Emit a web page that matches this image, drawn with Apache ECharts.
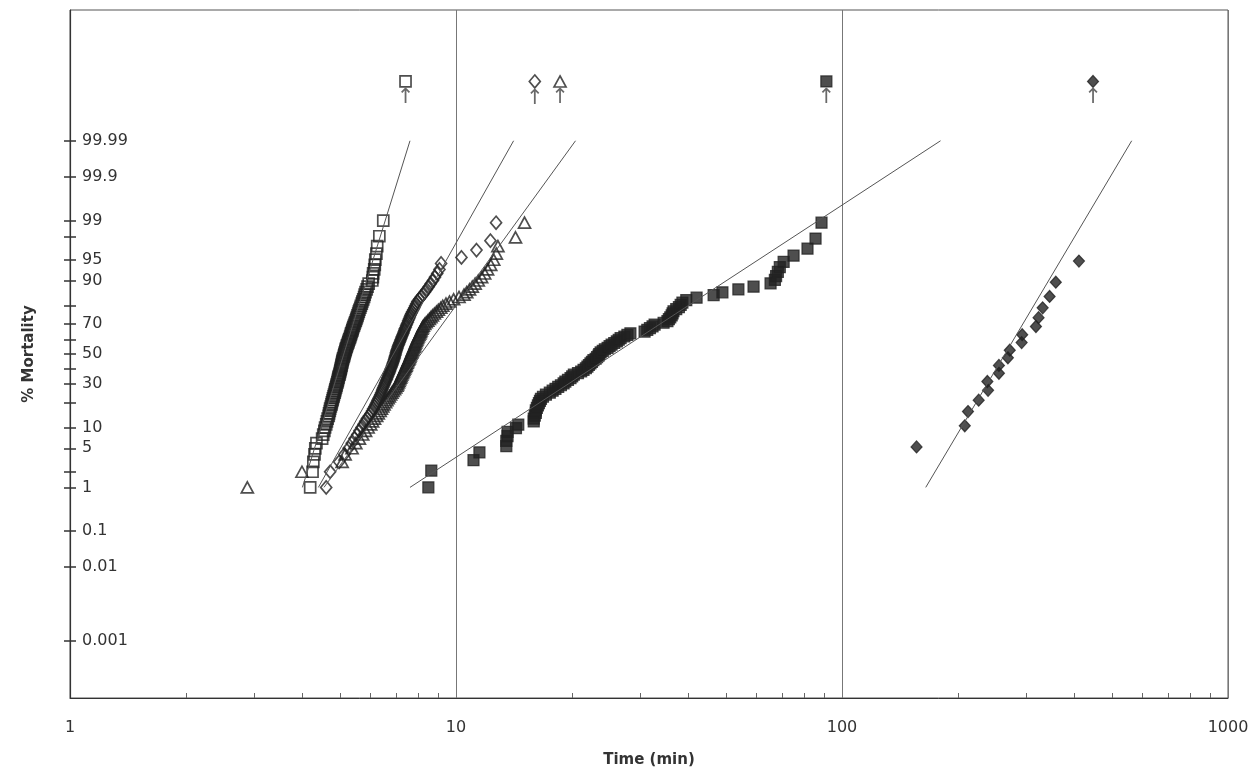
<!DOCTYPE html>
<html>
<head>
<meta charset="utf-8">
<title>% Mortality vs Time</title>
<script src="https://cdn.jsdelivr.net/npm/echarts@6/dist/echarts.min.js"></script>
<style>
html, body { margin: 0; padding: 0; background: #fff; }
#chart { width: 1260px; height: 773px; }
</style>
</head>
<body>
<div id="chart"></div>
<script>
// data: [time (min), % mortality]
var openSquares = [[4.19,1],[4.25,2],[4.27,3],[4.30,4],[4.32,5],[4.35,6],[4.50,7],[4.53,8],[4.56,9],[4.58,10],[4.61,11],[4.63,12],[4.65,13],[4.68,14],[4.69,15],[4.71,16],[4.72,17],[4.74,18],[4.76,19],[4.77,20],[4.79,21],[4.80,22],[4.82,23],[4.83,24],[4.85,25],[4.86,26],[4.87,27],[4.89,28],[4.90,29],[4.91,30],[4.93,31],[4.94,32],[4.95,33],[4.96,34],[4.97,35],[4.99,36],[5.00,37],[5.01,38],[5.02,39],[5.03,40],[5.04,41],[5.05,42],[5.06,43],[5.07,44],[5.08,45],[5.09,46],[5.10,47],[5.12,48],[5.13,49],[5.14,50],[5.15,51],[5.17,52],[5.18,53],[5.19,54],[5.21,55],[5.22,56],[5.24,57],[5.26,58],[5.27,59],[5.29,60],[5.31,61],[5.32,62],[5.34,63],[5.35,64],[5.37,65],[5.39,66],[5.40,67],[5.42,68],[5.44,69],[5.46,70],[5.48,71],[5.50,72],[5.52,73],[5.54,74],[5.56,75],[5.58,76],[5.60,77],[5.62,78],[5.65,79],[5.67,80],[5.70,81],[5.72,82],[5.75,83],[5.78,84],[5.80,85],[5.83,86],[5.87,87],[5.90,88],[5.94,89],[6.07,90],[6.09,91],[6.10,92],[6.14,93],[6.16,94],[6.18,95],[6.22,96],[6.25,97],[6.33,98],[6.48,99]];

var openDiamonds = [[4.61,1],[4.72,2],[4.98,3],[5.14,4],[5.27,5],[5.37,6],[5.46,7],[5.55,8],[5.62,9],[5.69,10],[5.76,11],[5.82,12],[5.88,13],[5.95,14],[6.01,15],[6.06,16],[6.10,17],[6.15,18],[6.19,19],[6.23,20],[6.26,21],[6.30,22],[6.34,23],[6.37,24],[6.40,25],[6.43,26],[6.45,27],[6.48,28],[6.51,29],[6.54,30],[6.56,31],[6.59,32],[6.62,33],[6.64,34],[6.67,35],[6.69,36],[6.72,37],[6.74,38],[6.76,39],[6.78,40],[6.81,41],[6.83,42],[6.85,43],[6.87,44],[6.89,45],[6.91,46],[6.93,47],[6.94,48],[6.96,49],[6.98,50],[6.99,51],[7.01,52],[7.03,53],[7.05,54],[7.07,55],[7.09,56],[7.12,57],[7.14,58],[7.17,59],[7.19,60],[7.22,61],[7.24,62],[7.27,63],[7.30,64],[7.32,65],[7.35,66],[7.37,67],[7.41,68],[7.43,69],[7.46,70],[7.50,71],[7.52,72],[7.56,73],[7.59,74],[7.62,75],[7.66,76],[7.70,77],[7.75,78],[7.80,79],[7.84,80],[7.89,81],[7.94,82],[8.03,83],[8.11,84],[8.21,85],[8.31,86],[8.40,87],[8.50,88],[8.60,89],[8.72,90],[8.82,91],[8.94,92],[9.06,93],[9.15,94.3],[10.33,95.4],[11.3,96.5],[12.28,97.6],[12.7,98.9]];

var openTriangles = [[2.88,1],[3.99,2],[5.07,3],[5.16,4],[5.38,5],[5.50,6],[5.62,7],[5.73,8],[5.83,9],[5.92,10],[6.01,11],[6.08,12],[6.15,13],[6.23,14],[6.29,15],[6.36,16],[6.41,17],[6.46,18],[6.51,19],[6.57,20],[6.62,21],[6.67,22],[6.72,23],[6.77,24],[6.82,25],[6.87,26],[6.93,27],[6.98,28],[7.03,29],[7.06,30],[7.09,31],[7.12,32],[7.15,33],[7.18,34],[7.21,35],[7.24,36],[7.27,37],[7.30,38],[7.33,39],[7.36,40],[7.39,41],[7.42,42],[7.44,43],[7.47,44],[7.50,45],[7.53,46],[7.56,47],[7.59,48],[7.61,49],[7.64,50],[7.67,51],[7.69,52],[7.72,53],[7.75,54],[7.78,55],[7.81,56],[7.83,57],[7.86,58],[7.89,59],[7.92,60],[7.95,61],[7.98,62],[8.02,63],[8.06,64],[8.09,65],[8.12,66],[8.16,67],[8.19,68],[8.23,69],[8.30,70],[8.37,71],[8.45,72],[8.53,73],[8.61,74],[8.69,75],[8.79,76],[8.90,77],[9.00,78],[9.13,79],[9.24,80],[9.42,81],[9.62,82],[9.86,83],[10.18,84],[10.49,85],[10.66,86],[10.84,87],[11.02,88],[11.21,89],[11.42,90],[11.65,91],[11.86,92],[12.07,93],[12.30,94],[12.52,95],[12.72,96],[12.84,97],[14.26,97.9],[15.05,98.9]];

var filledSquares = [[8.48,1.0],[8.63,2.1],[11.1,3.2],[11.5,4.3],[13.5,5.4],[13.5,6.5],[13.6,7.6],[13.6,8.7],[14.3,9.8],[14.5,10.9],[15.9,12.0],[15.9,13.0],[16.0,14.1],[16.1,15.2],[16.1,16.3],[16.2,17.4],[16.3,18.5],[16.4,19.6],[16.5,20.7],[16.6,21.7],[16.8,22.8],[17.1,23.9],[17.5,25.0],[17.8,26.1],[18.1,27.2],[18.4,28.3],[18.7,29.3],[19.0,30.4],[19.2,31.5],[19.5,32.6],[19.8,33.7],[20.0,34.8],[20.2,35.9],[20.7,37.0],[21.1,38.0],[21.4,39.1],[21.7,40.2],[21.9,41.3],[22.1,42.4],[22.3,43.5],[22.5,44.6],[22.7,45.7],[23.0,46.7],[23.2,47.8],[23.4,48.9],[23.5,50.0],[23.7,51.1],[24.0,52.2],[24.3,53.3],[24.7,54.3],[25.0,55.4],[25.3,56.5],[25.7,57.6],[26.1,58.7],[26.4,59.8],[26.7,60.9],[27.3,62.0],[27.8,63.0],[28.3,64.1],[30.8,65.2],[31.3,66.3],[31.8,67.4],[32.3,68.5],[32.7,69.6],[34.5,70.7],[35.3,71.7],[35.6,72.8],[35.9,73.9],[36.2,75.0],[36.4,76.1],[36.6,77.2],[37.2,78.3],[37.8,79.3],[38.2,80.4],[38.6,81.5],[39.5,82.6],[42.0,83.7],[46.5,84.8],[49.0,85.9],[53.9,87.0],[59.0,88.0],[65.3,89.1],[67.0,90.2],[67.5,91.3],[68.2,92.4],[69.0,93.5],[70.6,94.6],[74.9,95.7],[81.4,96.7],[85.4,97.8],[88.5,98.9]];

var filledDiamonds = [[156,5.26],[208,10.53],[212,15.79],[226,21.05],[239,26.32],[238,31.58],[255,36.84],[255,42.11],[269,47.37],[272,52.63],[292,57.89],[293,63.16],[318,68.42],[323,73.68],[331,78.95],[345,84.21],[358,89.47],[411,94.74]];

// survivors (plotted above 100 %, with an arrow), same order as the series
var survivorTimes = [7.4, 16.0, 18.6, 91.1, 447];
var survivorPct = 99.9999;

// fitted probit lines: [time, %] end points
var fitOpenSquares = [[4.0, 1], [7.6, 99.99]];
var fitOpenDiamonds = [[4.4, 1], [14.1, 99.99]];
var fitOpenTriangles = [[4.55, 1], [20.4, 99.99]];
var fitFilledSquares = [[7.6, 1], [180, 99.99]];
var fitFilledDiamonds = [[164.8, 1], [563, 99.99]];

// y axis ticks; the "0.001" label sits lower in the original (at probit -5)
var yTickLabels = ['0.001', '0.01', '0.1', '1', '5', '10', '30', '50', '70', '90', '95', '99', '99.9', '99.99'];
var yTickPct = [0.0000287, 0.01, 0.1, 1, 5, 10, 30, 50, 70, 90, 95, 99, 99.9, 99.99];
var yMinorPct = [2, 20, 40, 60, 80, 98];
var xMinorTicks = [2,3,4,5,6,7,8,9,20,30,40,50,60,70,80,90,200,300,400,500,600,700,800,900];

// inverse normal, p in %
function probit(pct) {
    var p = pct / 100;
    var a = [-3.969683028665376e+01, 2.209460984245205e+02, -2.759285104469687e+02, 1.383577518672690e+02, -3.066479806614716e+01, 2.506628277459239e+00];
    var b = [-5.447609879822406e+01, 1.615858368580409e+02, -1.556989798598866e+02, 6.680131188771972e+01, -1.328068155288572e+01];
    var c = [-7.784894002430293e-03, -3.223964580411365e-01, -2.400758277161838e+00, -2.549732539343734e+00, 4.374664141464968e+00, 2.938163982698783e+00];
    var d = [7.784695709041462e-03, 3.224671290700398e-01, 2.445134137142996e+00, 3.754408661907416e+00];
    var q, r;
    if (p < 0.02425) {
        q = Math.sqrt(-2 * Math.log(p));
        return (((((c[0]*q+c[1])*q+c[2])*q+c[3])*q+c[4])*q+c[5]) / ((((d[0]*q+d[1])*q+d[2])*q+d[3])*q+1);
    }
    if (p > 1 - 0.02425) {
        q = Math.sqrt(-2 * Math.log(1 - p));
        return -(((((c[0]*q+c[1])*q+c[2])*q+c[3])*q+c[4])*q+c[5]) / ((((d[0]*q+d[1])*q+d[2])*q+d[3])*q+1);
    }
    q = p - 0.5; r = q * q;
    return (((((a[0]*r+a[1])*r+a[2])*r+a[3])*r+a[4])*r+a[5])*q / (((((b[0]*r+b[1])*r+b[2])*r+b[3])*r+b[4])*r+1);
}

var FONT = 'DejaVu Sans';
var INK = '#222';

var labelPos = yTickPct.map(probit);
var tickPos = labelPos.concat(yMinorPct.map(probit));

function toXY(arr) {
    return arr.map(function (d) { return [d[0], probit(d[1])]; });
}

function withSurvivor(arr, i) {
    var pts = toXY(arr);
    pts.push({
        value: [survivorTimes[i], probit(survivorPct)],
        label: {
            show: true, position: 'bottom', distance: -1, formatter: '\u2191',
            fontSize: 21, color: '#444', fontFamily: FONT
        }
    });
    return pts;
}

function markers(arr, i, symbol, size, filled) {
    return {
        type: 'scatter',
        data: withSurvivor(arr, i),
        symbol: symbol,
        symbolSize: size,
        itemStyle: {
            color: filled ? INK : 'rgba(0,0,0,0)',
            borderColor: INK,
            borderWidth: filled ? 1.2 : 1.7
        },
        z: 3
    };
}

function fitLine(arr) {
    return {
        type: 'line',
        data: toXY(arr),
        symbol: 'none',
        lineStyle: { color: '#555', width: 1 },
        z: 4
    };
}

var myChart = echarts.init(document.getElementById('chart'));

var option = {
    backgroundColor: '#fff',
    animation: false,
    grid: {
        left: 70, right: 32, top: 10, bottom: 73,
        show: true, borderColor: '#555', borderWidth: 1
    },
    xAxis: [{
        type: 'log', logBase: 10, min: 1, max: 1000,
        axisLine: { show: true, onZero: false, lineStyle: { color: '#333', width: 1 } },
        axisTick: { show: false },
        axisLabel: {
            fontSize: 16, color: '#333', margin: 22, fontFamily: FONT,
            formatter: function (v) { return String(v); }
        },
        splitLine: { show: true, lineStyle: { color: '#777', width: 1 } },
        name: 'Time (min)', nameLocation: 'middle', nameGap: 55,
        nameTextStyle: { fontSize: 15, fontWeight: 'bold', color: '#333', fontFamily: FONT }
    }, {
        type: 'log', logBase: 10, min: 1, max: 1000, position: 'bottom',
        axisLine: { show: false, onZero: false },
        axisLabel: { show: false },
        splitLine: { show: false },
        axisTick: { show: true, inside: true, length: 5, customValues: xMinorTicks, lineStyle: { color: '#666' } }
    }],
    yAxis: [{
        type: 'value', min: -6, max: 6,
        axisLine: { show: true, onZero: false, lineStyle: { color: '#333', width: 1.2 } },
        axisTick: { show: true, length: 6, customValues: tickPos, lineStyle: { color: '#333', width: 1.5 } },
        axisLabel: {
            inside: true, margin: 12, customValues: labelPos,
            fontSize: 16, color: '#333', fontFamily: FONT,
            formatter: function (v) {
                for (var i = 0; i < labelPos.length; i++) {
                    if (Math.abs(labelPos[i] - v) < 1e-6) return yTickLabels[i];
                }
                return '';
            }
        },
        splitLine: { show: false },
        name: '% Mortality', nameLocation: 'middle', nameGap: 33,
        nameTextStyle: { fontSize: 15, fontWeight: 'bold', color: '#333', fontFamily: FONT }
    }, {
        type: 'value', min: -6, max: 6, position: 'left',
        axisLine: { show: false, onZero: false },
        axisLabel: { show: false },
        splitLine: { show: false },
        axisTick: { show: true, inside: true, length: 6, customValues: tickPos, lineStyle: { color: '#333', width: 1.5 } }
    }],
    series: [
        fitLine(fitOpenSquares),
        fitLine(fitOpenDiamonds),
        fitLine(fitOpenTriangles),
        fitLine(fitFilledSquares),
        fitLine(fitFilledDiamonds),
        markers(openSquares, 0, 'rect', 11, false),
        markers(openDiamonds, 1, 'diamond', [11, 13], false),
        markers(openTriangles, 2, 'triangle', [12, 11], false),
        markers(filledSquares, 3, 'rect', 11, true),
        markers(filledDiamonds, 4, 'diamond', [11, 12], true)
    ]
};

myChart.setOption(option, true);
</script>
</body>
</html>
